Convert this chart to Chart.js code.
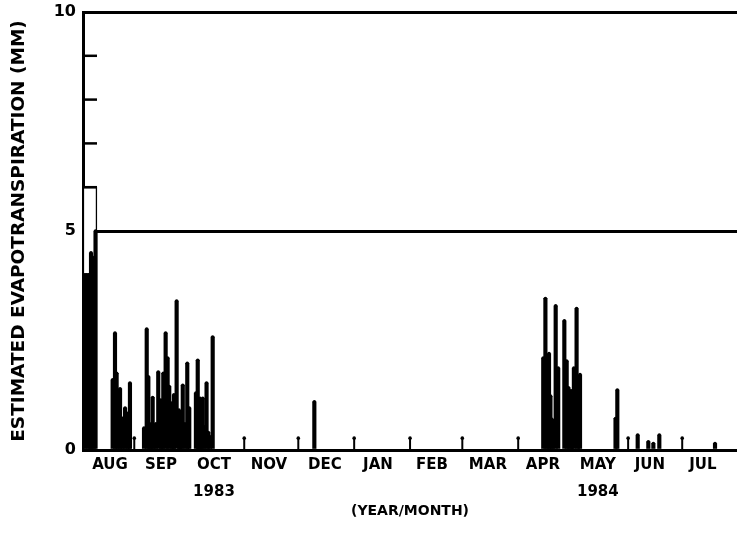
<!DOCTYPE html>
<html><head><meta charset="utf-8">
<script src="https://cdn.jsdelivr.net/npm/chart.js@4/dist/chart.umd.min.js"></script>
<style>html,body{margin:0;padding:0;background:#fff;overflow:hidden}#wrap{position:relative;width:737px;height:542px}canvas{display:block}</style>
</head><body><div id="wrap"><canvas id="c"></canvas></div>
<script>
// x values are days counted from 1 Aug 1983
const monthNames = ['AUG','SEP','OCT','NOV','DEC','JAN','FEB','MAR','APR','MAY','JUN','JUL'];
const yearLabels = ['','','1983','','','','','','','1984','',''];
const monthLabelDays = [17.5,45.8,75.2,105.7,136.8,166.2,196.2,227.2,257.7,288.2,317.1,346.5];
const monthStartDays = [31,61,92,122,153,184,213,244,274,305,335];
const monthTickHeight = 0.27;
const yMinorTicks = [1,2,3,4,6,7,8,9];
const yLabelled = [0,5,10];

const etDays = [3.6,4.5,5.6,6.4,7.0,7.8,8.7,9.5,
  19.0,20.3,21.2,22.2,23.1,24.0,24.9,25.9,27.1,27.9,28.6,
  36.4,37.9,38.8,39.7,40.4,41.2,42.1,43.0,44.3,45.7,46.4,47.1,48.4,49.5,50.4,51.8,52.5,53.0,54.5,55.8,56.4,56.9,57.9,59.1,60.4,61.5,
  65.2,66.2,66.9,67.5,68.3,69.0,69.8,71.1,72.1,73.0,74.5,
  130.9,
  257.9,259.1,260.0,261.1,261.9,262.7,263.6,264.8,266.2,269.6,270.9,271.9,272.7,273.8,274.9,276.4,277.3,278.3,
  298.0,299.0,310.3,316.2,319.0,322.3,353.2];
const etValues = [4.0,4.0,4.0,4.0,4.5,4.4,4.3,5.0,
  1.6,2.67,1.75,0.75,1.4,0.7,0.73,0.96,0.84,0.7,1.53,
  0.5,2.76,1.67,0.57,0.6,1.2,0.5,0.6,1.78,1.14,0.9,1.75,2.67,2.1,1.45,1.07,1.05,1.26,3.4,0.91,0.6,0.87,1.48,0.6,1.98,0.96,
  1.3,2.05,0.7,1.18,0.8,1.18,0.53,1.53,0.4,0.3,2.58,
  1.1,
  2.1,3.46,0.7,2.2,1.23,0.7,0.65,3.29,1.87,2.95,2.03,1.42,1.35,1.35,1.87,3.23,0.43,1.72,
  0.72,1.37,0.34,0.19,0.15,0.34,0.15];
const outlineDays = [6.4];
const outlineValues = [6.0];

const pts = etDays.map((d,i)=>({x:d,y:etValues[i]}));
const FONT = 'DejaVu Sans';

const decor = {
  id:'decor',
  afterDatasetsDraw(chart){
    const {ctx, scales:{x,y}, chartArea:a} = chart;
    ctx.save();
    ctx.strokeStyle='#000'; ctx.fillStyle='#000'; ctx.lineWidth=2.5; ctx.lineCap='butt';
    yMinorTicks.forEach(v=>{
      const py=y.getPixelForValue(v);
      ctx.beginPath(); ctx.moveTo(a.left,py); ctx.lineTo(a.left+14,py); ctx.stroke();
    });
    monthStartDays.forEach(d=>{
      const px=x.getPixelForValue(d), p0=y.getPixelForValue(0), p1=y.getPixelForValue(monthTickHeight);
      ctx.lineWidth=2;
      ctx.beginPath(); ctx.moveTo(px,p0); ctx.lineTo(px,p1); ctx.stroke();
      ctx.beginPath(); ctx.arc(px,p1,1.8,0,Math.PI*2); ctx.fill();
    });
    ctx.restore();
  }
};

new Chart(document.getElementById('c'), {
  type:'bar',
  data:{datasets:[
    {label:'outline', data: outlineDays.map((d,i)=>({x:d,y:outlineValues[i]})), backgroundColor:'#fff', borderColor:'#000', borderWidth:1.5, barThickness:14, order:3, grouped:false},
    {label:'ET', data: pts, backgroundColor:'#000', borderWidth:0, barThickness:3.5, order:2, grouped:false},
    {type:'scatter', label:'tops', data: pts, pointRadius:1.8, hoverRadius:1.8, pointBackgroundColor:'#000', pointBorderWidth:0, order:1}
  ]},
  options:{
    responsive:true, maintainAspectRatio:false, animation:false,
    layout:{autoPadding:false, padding:{top:12,right:0,left:0,bottom:0}},
    plugins:{legend:{display:false}, tooltip:{enabled:false}},
    scales:{
      x:{type:'linear', min:2.55, max:365.4, offset:false,
        afterFit(s){ s.height=92; s.paddingLeft=0; s.paddingRight=0; },
        afterBuildTicks(s){ s.ticks = monthLabelDays.map(v=>({value:v})); },
        grid:{display:false, drawTicks:false},
        border:{display:true, color:'#000', width:3},
        ticks:{autoSkip:false, maxRotation:0, minRotation:0, padding:1.5, color:'#000',
          font:{family:FONT, size:15, weight:'bold', lineHeight:'27px'},
          callback:(v,i)=> yearLabels[i] ? [monthNames[i], yearLabels[i]] : monthNames[i]},
        title:{display:true, text:'(YEAR/MONTH)', color:'#000', font:{family:FONT, size:14, weight:'bold'}, padding:{top:0,bottom:22}}
      },
      y:{min:0, max:10,
        afterFit(s){ s.width=83; s.paddingTop=0; s.paddingBottom=0; },
        afterBuildTicks(s){ s.ticks = [0,1,2,3,4,5,6,7,8,9,10].map(v=>({value:v})); },
        grid:{drawTicks:false, color:c=> (c.tick && (c.tick.value===5||c.tick.value===10)) ? '#000' : 'rgba(0,0,0,0)', lineWidth:3},
        border:{display:true, color:'#000', width:3},
        ticks:{padding:7, color:'#000', font:{family:FONT, size:16, weight:'bold'},
          callback:v=> yLabelled.includes(v) ? String(v) : ''},
        title:{display:true, text:'ESTIMATED EVAPOTRANSPIRATION (MM)', color:'#000', font:{family:FONT, size:18.5, weight:'bold'}, padding:{top:8,bottom:0}}
      }
    }
  },
  plugins:[decor]
});
</script></body></html>
